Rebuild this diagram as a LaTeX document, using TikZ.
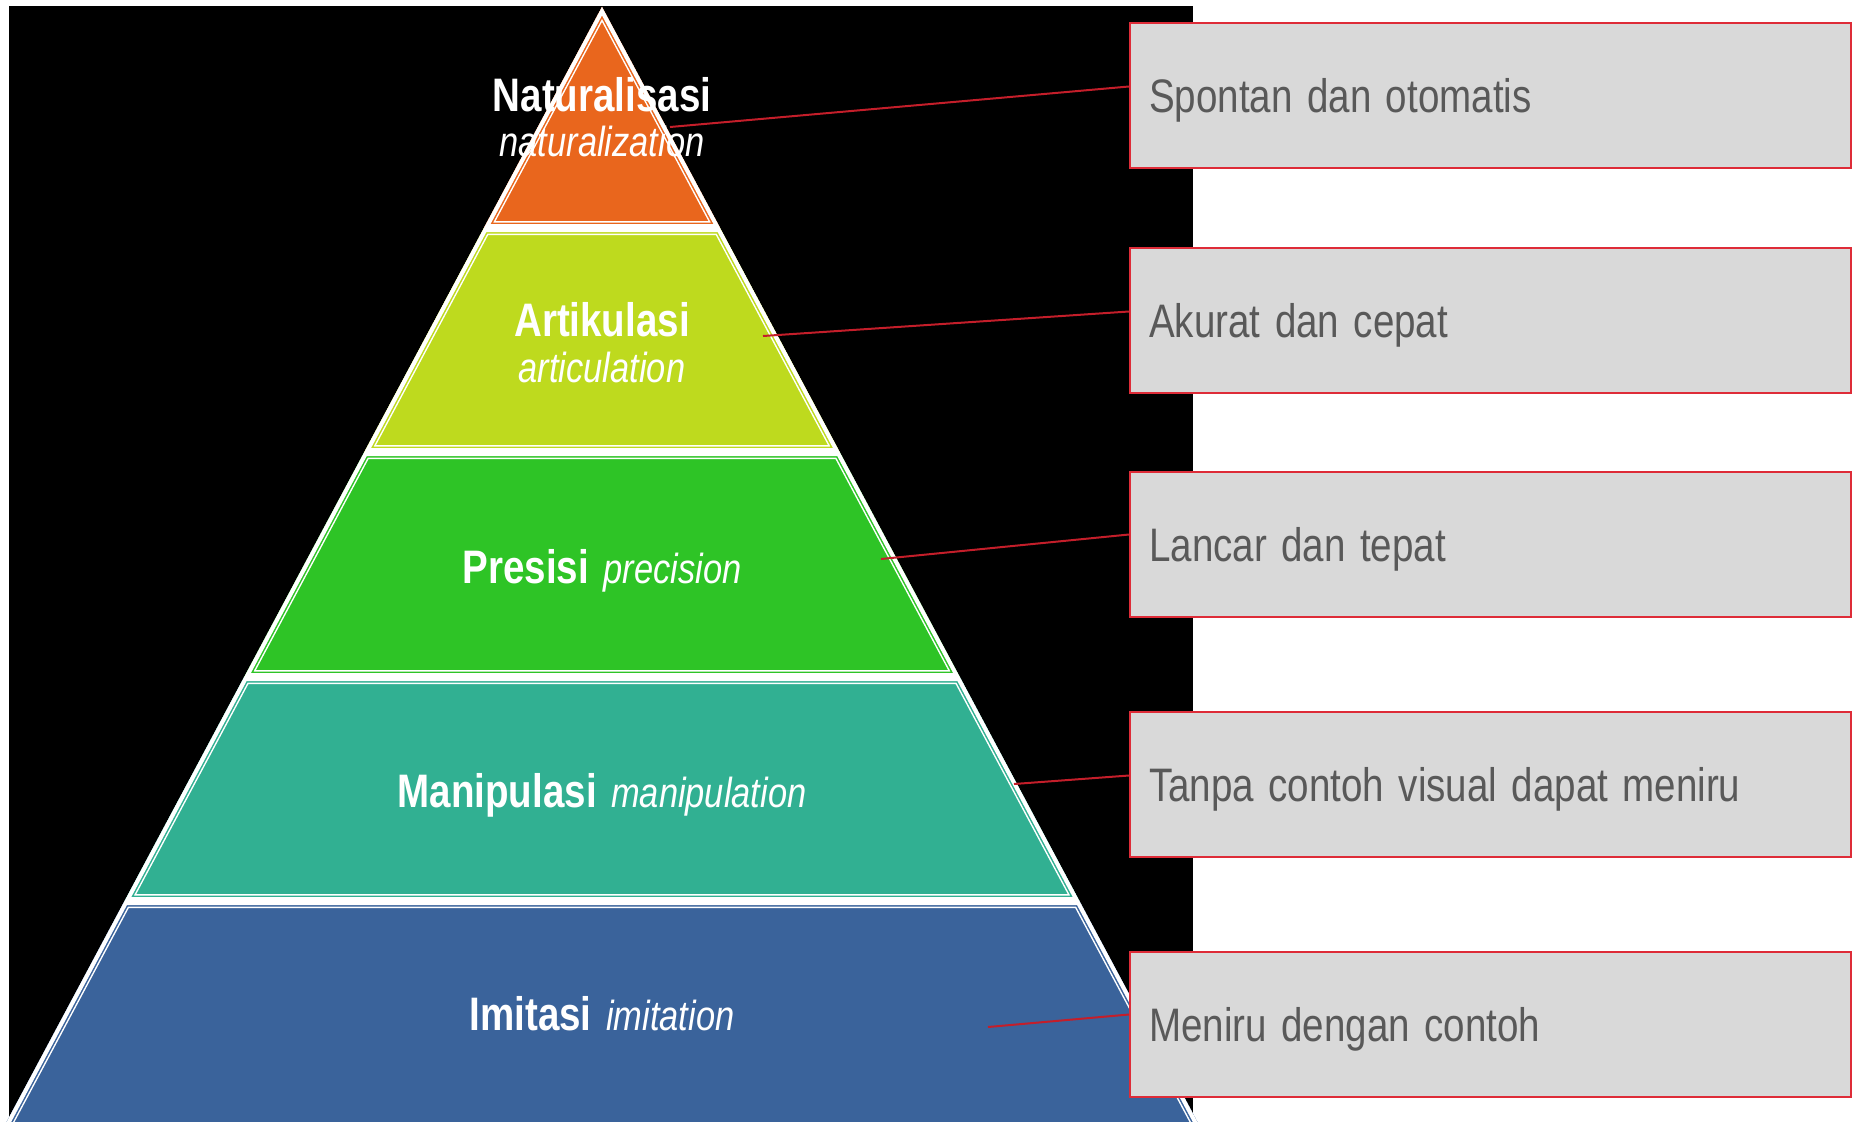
\documentclass[tikz,border=0pt]{standalone}
\usepackage{fontspec}
\setmainfont{Liberation Sans}[FakeStretch=0.82,WordSpace=1.35]
\usetikzlibrary{calc}
\definecolor{lorange}{RGB}{233,102,29}
\definecolor{llime}{RGB}{190,218,30}
\definecolor{lgreen}{RGB}{46,196,38}
\definecolor{lteal}{RGB}{49,176,146}
\definecolor{lblue}{RGB}{58,99,155}
\definecolor{boxfill}{RGB}{217,217,217}
\definecolor{boxline}{RGB}{222,44,56}
\definecolor{boxtext}{RGB}{89,89,89}
\definecolor{connred}{RGB}{196,30,42}

% one band of the pyramid: top y, bottom y, colour
\newcommand\pyrband[3]{%
  \pgfmathsetmacro\xtl{602-0.534*(#1-7)}%
  \pgfmathsetmacro\xtr{1204-\xtl}%
  \pgfmathsetmacro\xbl{602-0.534*(#2-7)}%
  \pgfmathsetmacro\xbr{1204-\xbl}%
  \begin{scope}
    \clip (\xtl,#1) -- (\xtr,#1) -- (\xbr,#2) -- (\xbl,#2) -- cycle;
    \fill[#3] (\xtl,#1) -- (\xtr,#1) -- (\xbr,#2) -- (\xbl,#2) -- cycle;
    \draw[white,line width=14] (\xtl,#1) -- (\xtr,#1) -- (\xbr,#2) -- (\xbl,#2) -- cycle;
    \draw[#3,line width=11] (\xtl,#1) -- (\xtr,#1) -- (\xbr,#2) -- (\xbl,#2) -- cycle;
    \draw[white,line width=8] (\xtl,#1) -- (\xtr,#1) -- (\xbr,#2) -- (\xbl,#2) -- cycle;
  \end{scope}}

\begin{document}
\begin{tikzpicture}[x=1pt,y=-1pt,
  bandlabel/.style={text=white,inner sep=0pt,font=\fontsize{47}{50}\selectfont\bfseries},
  bandsub/.style={text=white,inner sep=0pt,font=\fontsize{42}{46}\selectfont\itshape},
  descbox/.style={fill=boxfill,draw=boxline,line width=2,minimum width=721,minimum height=145,
    anchor=north west},
  desctext/.style={text=boxtext,inner sep=0pt,anchor=base west,font=\fontsize{47}{50}\selectfont},
  conn/.style={draw=connred,line width=2}]
\useasboundingbox (0,0) rectangle (1854,1121);
\clip (0,0) rectangle (1854,1121);

% dark backdrop behind the pyramid
\fill[black] (9,6) rectangle (1193,1130);

% top triangle
\begin{scope}
  \clip (602,7) -- (720.1,228) -- (483.9,228) -- cycle;
  \fill[lorange] (602,7) -- (720.1,228) -- (483.9,228) -- cycle;
  \draw[white,line width=14] (602,7) -- (720.1,228) -- (483.9,228) -- cycle;
  \draw[lorange,line width=11] (602,7) -- (720.1,228) -- (483.9,228) -- cycle;
  \draw[white,line width=8] (602,7) -- (720.1,228) -- (483.9,228) -- cycle;
\end{scope}
\pyrband{228}{452}{llime}
\pyrband{452}{677}{lgreen}
\pyrband{677}{901}{lteal}
\pyrband{901}{1160}{lblue}

% band labels
\node[bandlabel,anchor=base] (t1) at (602,112) {Naturalisasi};
\node[bandsub,anchor=base] (s1) at (602,157) {naturalization};
\node[bandlabel,anchor=base] (t2) at (602,336) {Artikulasi};
\node[bandsub,anchor=base] (s2) at (602,382) {articulation};
\node[bandlabel,anchor=base] (t3) at (602,583) {Presisi {\fontsize{42}{46}\selectfont\mdseries\itshape precision}};
\node[bandlabel,anchor=base] (t4) at (602,807) {Manipulasi {\fontsize{42}{46}\selectfont\mdseries\itshape manipulation}};
\node[bandlabel,anchor=base] (t5) at (602,1030) {Imitasi {\fontsize{42}{46}\selectfont\mdseries\itshape imitation}};

% connector starts on the bands
\coordinate (p1) at (670,127);
\coordinate (p2) at (763,336);
\coordinate (p3) at (881,559);
\coordinate (p4) at (1014,784);
\coordinate (p5) at (988,1027);

% description boxes
\node[descbox] (b1) at (1129,22) {};
\node[descbox] (b2) at (1129,247) {};
\node[descbox] (b3) at (1129,471) {};
\node[descbox] (b4) at (1129,711) {};
\node[descbox] (b5) at (1129,951) {};
\node[desctext] (d1) at ($(b1.west)+(20,17)$) {Spontan dan otomatis};
\node[desctext] (d2) at ($(b2.west)+(20,17)$) {Akurat dan cepat};
\node[desctext] (d3) at ($(b3.west)+(20,17)$) {Lancar dan tepat};
\node[desctext] (d4) at ($(b4.west)+(20,17)$) {Tanpa contoh visual dapat meniru};
\node[desctext] (d5) at ($(b5.west)+(20,17)$) {Meniru dengan contoh};

% connectors
\draw[conn] (p1) -- ($(b1.west)+(0,-9)$);
\draw[conn] (p2) -- ($(b2.west)+(0,-9)$);
\draw[conn] (p3) -- ($(b3.west)+(0,-10)$);
\draw[conn] (p4) -- ($(b4.west)+(0,-9)$);
\draw[conn] (p5) -- ($(b5.west)+(0,-10)$);
\end{tikzpicture}
\end{document}
